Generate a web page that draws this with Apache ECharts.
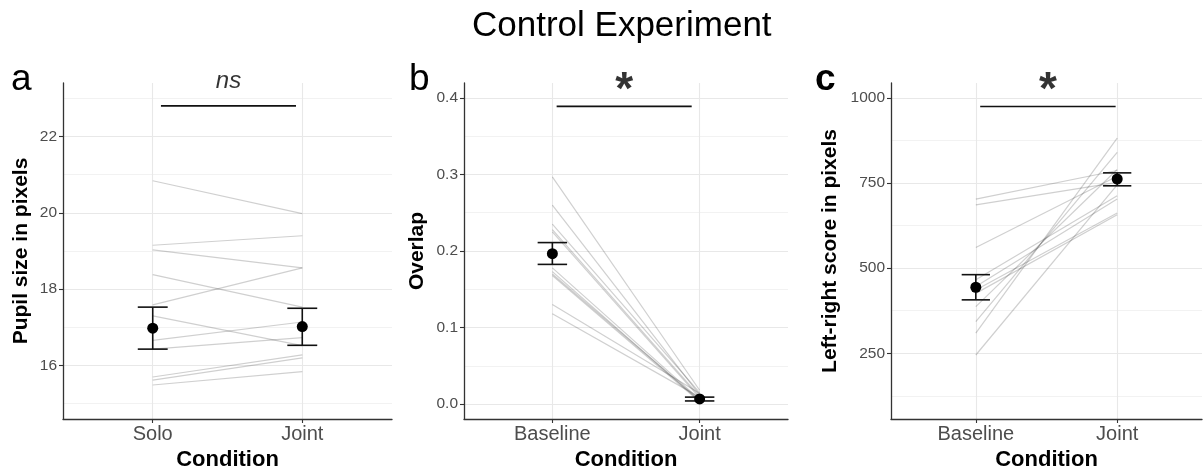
<!DOCTYPE html>
<html>
<head>
<meta charset="utf-8">
<script src="https://cdn.jsdelivr.net/npm/echarts@6/dist/echarts.min.js"></script>
<style>
html,body{margin:0;padding:0;background:#fff;width:1203px;height:470px;overflow:hidden;}
#chart{width:1203px;height:470px;display:block;}
</style>
</head>
<body>
<div id="chart"></div>
<script>
// ---- Data ----
const categoriesA = ['Solo', 'Joint'];
const categoriesB = ['Baseline', 'Joint'];
const categoriesC = ['Baseline', 'Joint'];

// panel a: pupil size (per participant)
const soloA  = [20.84, 19.15, 19.03, 18.38, 17.59, 17.30, 16.66, 16.43, 15.70, 15.62, 15.49];
const jointA = [19.98, 19.40, 18.56, 17.53, 18.56, 16.52, 17.14, 16.73, 16.28, 16.20, 15.84];
const meanA = [16.98, 17.02];
const lowA  = [16.43, 16.53];
const highA = [17.53, 17.50];

// panel b: overlap
const baseB  = [0.297, 0.260, 0.235, 0.228, 0.225, 0.178, 0.173, 0.170, 0.168, 0.130, 0.118];
const jointB = [0.018, 0.012, 0.015, 0.010, 0.008, 0.006, 0.004, 0.005, 0.003, 0.014, 0.009];
const meanB = [0.1965, 0.0066];
const lowB  = [0.1825, 0.004];
const highB = [0.211, 0.009];

// panel c: left-right score
const baseC  = [703, 686, 561, 466, 446, 436, 426, 387, 343, 309, 245];
const jointC = [787, 752, 770, 713, 703, 662, 657, 790, 840, 882, 745];
const meanC = [444, 762];
const lowC  = [407, 742];
const highC = [481, 780];

// axis ticks
const ticksA = [16, 18, 20, 22];
const minorA = [15, 17, 19, 21, 23];
const ticksB = [0, 0.1, 0.2, 0.3, 0.4];
const minorB = [0.05, 0.15, 0.25, 0.35];
const ticksC = [250, 500, 750, 1000];
const minorC = [125, 375, 625, 875];

// significance annotations
const sigXA = [1.055, 1.958]; const sigYA = 22.8;  const sigTextA = 'ns';
const sigXB = [1.029, 1.946]; const sigYB = 0.389; const sigTextB = '*';
const sigXC = [1.031, 1.989]; const sigYC = 975;   const sigTextC = '*';

// ---- Build ----
const FONT = '"Liberation Sans", Arial, Helvetica, sans-serif';
const panels = [
  {cats: categoriesA, a: soloA, b: jointA, mean: meanA, lo: lowA, hi: highA, ticks: ticksA, minor: minorA,
   min: 14.6, max: 23.4, name: 'Pupil size in pixels', nameGap: 31, fmt: v => String(v),
   sigX: sigXA, sigY: sigYA, sigText: sigTextA, sigStyle: {fontStyle: 'italic', fontSize: 24, distance: 12},
   grid: {left: 63, top: 83, width: 329, height: 336}},
  {cats: categoriesB, a: baseB, b: jointB, mean: meanB, lo: lowB, hi: highB, ticks: ticksB, minor: minorB,
   min: -0.0196, max: 0.4196, name: 'Overlap', nameGap: 36, fmt: v => v.toFixed(1),
   sigX: sigXB, sigY: sigYB, sigText: sigTextB, sigStyle: {fontWeight: 'bold', fontSize: 46, distance: -8},
   grid: {left: 464, top: 83, width: 324, height: 336}},
  {cats: categoriesC, a: baseC, b: jointC, mean: meanC, lo: lowC, hi: highC, ticks: ticksC, minor: minorC,
   min: 57, max: 1044, name: 'Left-right score in pixels', nameGap: 50, fmt: v => String(v),
   sigX: sigXC, sigY: sigYC, sigText: sigTextC, sigStyle: {fontWeight: 'bold', fontSize: 46, distance: -8},
   grid: {left: 891, top: 83, width: 311, height: 336}}
];

const grids = [], xAxes = [], yAxes = [], series = [];
panels.forEach((p, i) => {
  grids.push(Object.assign({containLabel: false, outerBoundsMode: 'none'}, p.grid));
  xAxes.push({
    type: 'value', gridIndex: i, min: 0.4, max: 2.6,
    name: 'Condition', nameLocation: 'middle', nameGap: 28,
    nameTextStyle: {fontFamily: FONT, fontSize: 22, fontWeight: 'bold', color: '#000'},
    axisLine: {show: true, onZero: false, lineStyle: {color: '#333', width: 1.3}},
    axisTick: {show: true, customValues: [1, 2], length: 4, lineStyle: {color: '#333', width: 1.1}},
    axisLabel: {show: true, customValues: [1, 2], margin: 5, fontFamily: FONT, fontSize: 20, color: '#4d4d4d',
      formatter: v => p.cats[Math.round(v) - 1] || ''},
    splitLine: {show: false}
  });
  yAxes.push({
    type: 'value', gridIndex: i, min: p.min, max: p.max,
    name: p.name, nameLocation: 'middle', nameGap: p.nameGap,
    nameTextStyle: {fontFamily: FONT, fontSize: 21, fontWeight: 'bold', color: '#000'},
    axisLine: {show: true, onZero: false, lineStyle: {color: '#333', width: 1.3}},
    axisTick: {show: true, customValues: p.ticks, length: 4, lineStyle: {color: '#333', width: 1.1}},
    axisLabel: {show: true, customValues: p.ticks, margin: 6, fontFamily: FONT, fontSize: 15.5, color: '#4d4d4d',
      formatter: v => p.fmt(v)},
    splitLine: {show: false}
  });
  // grid lines
  series.push({
    type: 'line', xAxisIndex: i, yAxisIndex: i, data: [], silent: true, z: 0,
    markLine: {
      silent: true, z: 0, symbol: ['none', 'none'], label: {show: false}, animation: false,
      data: [
        ...p.minor.map(v => ({yAxis: v, lineStyle: {color: '#f2f2f2', width: 1, type: 'solid'}})),
        ...p.ticks.map(v => ({yAxis: v, lineStyle: {color: '#e8e8e8', width: 1.1, type: 'solid'}})),
        ...[1, 2].map(v => ({xAxis: v, lineStyle: {color: '#e8e8e8', width: 1.1, type: 'solid'}}))
      ]
    }
  });
  // participant lines
  p.a.forEach((v, k) => {
    series.push({
      type: 'line', xAxisIndex: i, yAxisIndex: i, silent: true, z: 2, symbol: 'none',
      lineStyle: {color: 'rgba(0,0,0,0.19)', width: 1.2},
      data: [[1, v], [2, p.b[k]]], animation: false
    });
  });
  // error bars
  series.push({
    type: 'custom', xAxisIndex: i, yAxisIndex: i, silent: true, z: 4,
    encode: {x: 0, y: [1, 2, 3]},
    data: p.mean.map((m, k) => [k + 1, m, p.lo[k], p.hi[k]]),
    renderItem: (params, api) => {
      const x = api.value(0), lo = api.value(2), hi = api.value(3);
      const pLo = api.coord([x, lo]), pHi = api.coord([x, hi]);
      const l1 = api.coord([x - 0.1, lo]), r1 = api.coord([x + 0.1, lo]);
      const l2 = api.coord([x - 0.1, hi]), r2 = api.coord([x + 0.1, hi]);
      const st = {stroke: '#111', lineWidth: 1.6};
      return {type: 'group', children: [
        {type: 'line', shape: {x1: pLo[0], y1: pLo[1], x2: pHi[0], y2: pHi[1]}, style: st},
        {type: 'line', shape: {x1: l1[0], y1: l1[1], x2: r1[0], y2: r1[1]}, style: st},
        {type: 'line', shape: {x1: l2[0], y1: l2[1], x2: r2[0], y2: r2[1]}, style: st}
      ]};
    },
    animation: false
  });
  // means
  series.push({
    type: 'scatter', xAxisIndex: i, yAxisIndex: i, silent: true, z: 5,
    symbol: 'circle', symbolSize: 11, itemStyle: {color: '#000', opacity: 1},
    data: p.mean.map((m, k) => [k + 1, m]), animation: false
  });
  // significance bar
  const mid = (p.sigX[0] + p.sigX[1]) / 2;
  series.push({
    type: 'line', xAxisIndex: i, yAxisIndex: i, silent: true, z: 5, symbol: 'none',
    lineStyle: {color: '#111', width: 1.6},
    data: [[p.sigX[0], p.sigY], [p.sigX[1], p.sigY]],
    animation: false
  });
  // significance label
  series.push({
    type: 'scatter', xAxisIndex: i, yAxisIndex: i, silent: true, z: 6, clip: false,
    symbol: 'circle', symbolSize: 1, itemStyle: {color: 'rgba(0,0,0,0)'},
    label: Object.assign({show: true, position: 'top', formatter: p.sigText, fontFamily: FONT, color: '#000'}, p.sigStyle),
    data: [[mid, p.sigY]], animation: false
  });
});

const chart = echarts.init(document.getElementById('chart'), null, {renderer: 'canvas', width: 1203, height: 470});
chart.setOption({
  backgroundColor: '#fff',
  animation: false,
  title: [
    {text: 'Control Experiment', left: 472, top: 9, padding: 0,
     textStyle: {fontFamily: FONT, fontSize: 35, fontWeight: 'normal', color: '#000'}},
    {text: 'a', left: 11, top: 61, padding: 0, textStyle: {fontFamily: FONT, fontSize: 37, fontWeight: 'normal', color: '#000'}},
    {text: 'b', left: 409, top: 61, padding: 0, textStyle: {fontFamily: FONT, fontSize: 37, fontWeight: 'normal', color: '#000'}},
    {text: 'c', left: 815, top: 61, padding: 0, textStyle: {fontFamily: FONT, fontSize: 37, fontWeight: 'bold', color: '#000'}}
  ],
  grid: grids, xAxis: xAxes, yAxis: yAxes, series: series
});
</script>
</body>
</html>
